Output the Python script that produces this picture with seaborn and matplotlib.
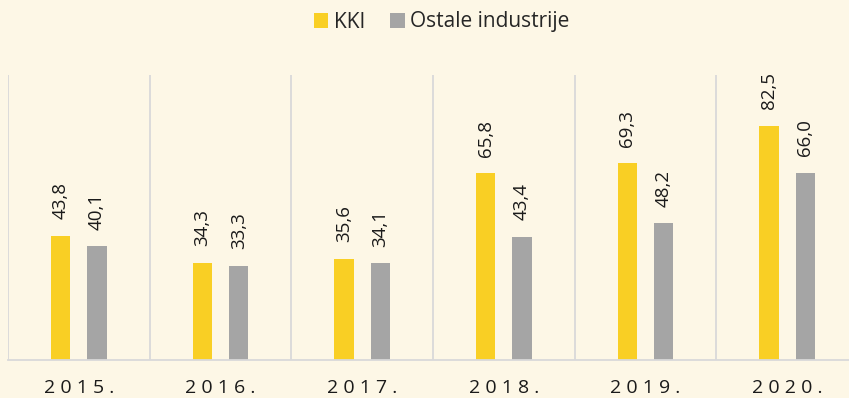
import matplotlib
matplotlib.use("Agg")
import matplotlib.pyplot as plt
import seaborn as sns
import pandas as pd
import numpy as np
from matplotlib.patches import Patch

years = ["2015.", "2016.", "2017.", "2018.", "2019.", "2020."]
kki = [43.8, 34.3, 35.6, 65.8, 69.3, 82.5]
ostale = [40.1, 33.3, 34.1, 43.4, 48.2, 66.0]
series_names = ["KKI", "Ostale industrije"]

BG = "#FDF7E6"
YELLOW = "#F9CF24"
GRAY = "#A5A5A5"
GRID = "#D9D9D9"

sns.set_theme(style="white")
plt.rcParams["font.family"] = ["Open Sans", "DejaVu Sans"]

df = pd.DataFrame({
    "year": years * 2,
    "value": kki + ostale,
    "series": [series_names[0]] * len(years) + [series_names[1]] * len(years),
})

fig = plt.figure(figsize=(8.49, 3.98), dpi=100, facecolor=BG)
ax = fig.add_axes([8 / 849, 38 / 398, 850 / 849, 285 / 398])
ax.set_facecolor(BG)

sns.barplot(data=df, x="year", y="value", hue="series", order=years,
            hue_order=series_names, palette=[YELLOW, GRAY],
            width=0.516, gap=0.47, legend=False, ax=ax, saturation=1,
            linewidth=0, edgecolor="none")

ax.set_xlim(-0.5, len(years) - 0.5)
ax.set_ylim(0, 100.5)

# category separators
for b in np.arange(-0.5, len(years) + 0.5, 1.0):
    ax.axvline(b, color=GRID, lw=1.3, zorder=0)

for s in ["top", "right", "left"]:
    ax.spines[s].set_visible(False)
ax.spines["bottom"].set_color(GRID)
ax.spines["bottom"].set_linewidth(1.3)

ax.set_yticks([])
ax.set_ylabel("")
ax.set_xlabel("")
ax.set_xticks(range(len(years)))
ax.set_xticklabels([" ".join(y) for y in years], fontsize=14, color="#1a1a1a")
ax.tick_params(axis="x", length=0, pad=14)

for container in ax.containers:
    for bar in container:
        h = bar.get_height()
        ax.annotate(f"{h:.1f}".replace(".", ","),
                    (bar.get_x() + bar.get_width() / 2, h),
                    xytext=(0, 12), textcoords="offset points",
                    rotation=90, ha="center", va="bottom",
                    fontsize=13.5, color="#1a1a1a")

handles = [Patch(facecolor=YELLOW, edgecolor="none"),
           Patch(facecolor=GRAY, edgecolor="none")]
fig.legend(handles, series_names, loc="center", bbox_to_anchor=(0.52, 1 - 22 / 398),
           ncol=2, frameon=False, fontsize=15, handlelength=0.7, handleheight=0.7,
           handletextpad=0.25, columnspacing=1.2)

fig.savefig("out.png", dpi=100, facecolor=BG)
